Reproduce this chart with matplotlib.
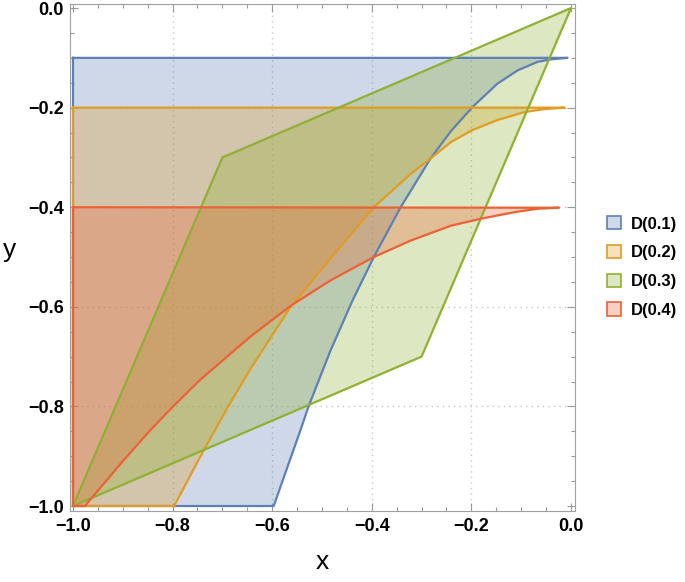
import numpy as np
import matplotlib
matplotlib.use('agg')
import matplotlib.pyplot as plt
from matplotlib.patches import Patch
from matplotlib.ticker import MultipleLocator, FuncFormatter

plt.rcParams['font.family'] = ['Liberation Sans', 'DejaVu Sans']

# Region boundaries (closed polygons)
labels = ["D(0.1)", "D(0.2)", "D(0.3)", "D(0.4)"]
colors = ["#5E81B5", "#E19C24", "#8FB032", "#EB6235"]

d1_x = [-1.0, -1.0, -0.597, -0.543, -0.527, -0.483, -0.439, -0.396, -0.342,
        -0.282, -0.241, -0.198, -0.148, -0.107, -0.067, -0.040, -0.007]
d1_y = [-0.1, -1.0, -1.0, -0.847, -0.8, -0.688, -0.588, -0.5, -0.4,
        -0.302, -0.247, -0.199, -0.152, -0.125, -0.108, -0.103, -0.1]

d2_x = [-1.0, -1.0, -0.797, -0.738, -0.69, -0.644, -0.563, -0.483, -0.396,
        -0.322, -0.282, -0.241, -0.198, -0.148, -0.094, -0.054, -0.013]
d2_y = [-0.2, -1.0, -1.0, -0.889, -0.803, -0.725, -0.6, -0.503, -0.4,
        -0.333, -0.302, -0.269, -0.245, -0.225, -0.209, -0.203, -0.2]

d3_x = [-1.0, -0.7, 0.0, -0.3]
d3_y = [-1.0, -0.3, 0.0, -0.7]

d4_x = [-1.0, -1.0, -0.976, -0.9, -0.845, -0.799, -0.744, -0.644, -0.563,
        -0.483, -0.396, -0.322, -0.241, -0.181, -0.114, -0.067, -0.024]
d4_y = [-0.4, -1.0, -1.0, -0.91, -0.848, -0.8, -0.746, -0.66, -0.598,
        -0.547, -0.5, -0.467, -0.437, -0.423, -0.41, -0.403, -0.401]

regions = [(d1_x, d1_y), (d2_x, d2_y), (d3_x, d3_y), (d4_x, d4_y)]

fig = plt.figure(figsize=(6.85, 5.82), dpi=100)
ax = fig.add_axes([0.1029, 0.122, 0.7365, 0.871])

for (xs, ys), c in zip(regions, colors):
    ax.fill(xs, ys, facecolor=c, alpha=0.3, edgecolor='none', zorder=2)
    ax.plot(list(xs) + [xs[0]], list(ys) + [ys[0]], color=c, lw=1.6,
            solid_joinstyle='round', zorder=3)

ax.set_xlim(-1.005, 0.008)
ax.set_ylim(-1.010, 0.008)

ax.xaxis.set_major_locator(MultipleLocator(0.2))
ax.xaxis.set_minor_locator(MultipleLocator(0.05))
ax.yaxis.set_major_locator(MultipleLocator(0.2))
ax.yaxis.set_minor_locator(MultipleLocator(0.05))
fmt = FuncFormatter(lambda v, p: f"{v:.1f}".replace("-", "\u2212"))
ax.xaxis.set_major_formatter(fmt)
ax.yaxis.set_major_formatter(fmt)

ax.tick_params(which='both', direction='in', top=True, right=True,
               color='#9a9a9a', width=0.8)
ax.tick_params(which='major', length=5.5, labelsize=13, pad=5)
ax.tick_params(which='minor', length=3)
for lab in ax.get_xticklabels() + ax.get_yticklabels():
    lab.set_fontweight('bold')
for s in ax.spines.values():
    s.set_color('#a0a0a0')
    s.set_linewidth(0.8)

# dotted grid behind the regions
for v in [-0.8, -0.6, -0.4, -0.2]:
    ax.axvline(v, color='#c8c8c8', lw=1, ls=(0, (1, 3)), zorder=1)
    ax.axhline(v, color='#c8c8c8', lw=1, ls=(0, (1, 3)), zorder=1)

fig.text(322 / 685, 1 - 562 / 582, "x", fontsize=19, ha='center', va='center')
fig.text(10 / 685, 1 - 250 / 582, "y", fontsize=19, ha='center', va='center')

handles = [Patch(facecolor=matplotlib.colors.to_rgba(c, 0.3), edgecolor=c, lw=1.2)
           for c in colors]
fig.legend(handles, labels, loc='center left',
           bbox_to_anchor=(592 / 685, 1 - 267 / 582), frameon=False,
           prop={'size': 12, 'weight': 'bold'},
           handlelength=0.85, handleheight=0.85, handletextpad=0.6,
           labelspacing=0.8)

fig.savefig("out.png", dpi=100, facecolor='w')
